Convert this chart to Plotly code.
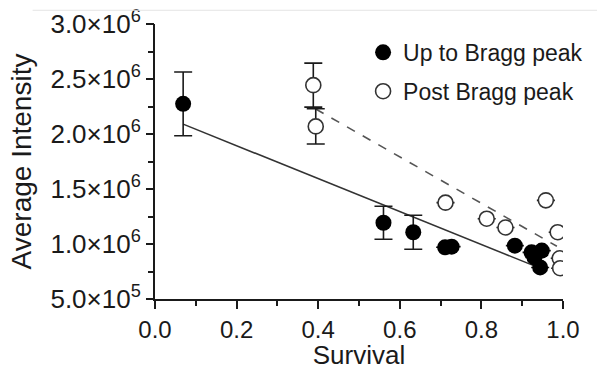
import plotly.graph_objects as go

# ---- data ----
up_x = [0.069, 0.560, 0.633, 0.711, 0.727, 0.882, 0.923, 0.948, 0.944, 0.930]
up_y = [2.274e6, 1.193e6, 1.107e6, 0.970e6, 0.976e6, 0.985e6, 0.924e6, 0.940e6, 0.787e6, 0.878e6]
up_err = [0.29e6, 0.15e6, 0.155e6, 0, 0, 0, 0, 0, 0, 0]

post_x = [0.388, 0.394, 0.712, 0.813, 0.859, 0.958, 0.987, 0.992, 0.993]
post_y = [2.444e6, 2.069e6, 1.376e6, 1.230e6, 1.150e6, 1.397e6, 1.107e6, 0.870e6, 0.780e6]
post_err = [0.20e6, 0.16e6, 0, 0, 0, 0, 0, 0, 0]

# linear fits (slope, intercept) and x extent
up_fit = [-1.497e6, 2.193e6]
up_fit_x = [0.069, 0.948]
post_fit = [-2.11e6, 3.058e6]
post_fit_x = [0.394, 0.985]

x_range = [0.0, 1.0]
x_major_step = 0.2
x_minor_step = 0.1
y_range = [5e5, 3.0e6]
y_ticks = [5e5, 1.0e6, 1.5e6, 2.0e6, 2.5e6, 3.0e6]
y_tick_text = ["5.0×10<sup>5</sup>", "1.0×10<sup>6</sup>", "1.5×10<sup>6</sup>",
               "2.0×10<sup>6</sup>", "2.5×10<sup>6</sup>", "3.0×10<sup>6</sup>"]
y_minor_step = 2.5e5

FONT = "Liberation Sans, Arial, sans-serif"
INK = "#1a1a1a"

fig = go.Figure()

# fit lines
fig.add_trace(go.Scatter(
    x=up_fit_x, y=[up_fit[0] * v + up_fit[1] for v in up_fit_x],
    mode="lines", line=dict(color="#333333", width=1.6), showlegend=False, hoverinfo="skip"))
fig.add_trace(go.Scatter(
    x=post_fit_x, y=[post_fit[0] * v + post_fit[1] for v in post_fit_x],
    mode="lines", line=dict(color="#555555", width=1.6, dash="dash"), showlegend=False, hoverinfo="skip"))

# data
fig.add_trace(go.Scatter(
    x=up_x, y=up_y, mode="markers", name="Up to Bragg peak", legendgroup="a",
    marker=dict(symbol="circle", size=16, color="#000000", line=dict(color="#000000", width=0)),
    error_y=dict(type="data", array=up_err, visible=True, color=INK, thickness=1.6, width=9)))
fig.add_trace(go.Scatter(
    x=post_x, y=post_y, mode="markers", name="Post Bragg peak", legendgroup="b",
    marker=dict(symbol="circle", size=15, color="#ffffff", line=dict(color="#333333", width=1.6)),
    error_y=dict(type="data", array=post_err, visible=True, color=INK, thickness=1.6, width=9)))

# empty trace so the overlay y axis (major ticks + labels) is drawn
fig.add_trace(go.Scatter(x=[], y=[], yaxis="y2", showlegend=False, hoverinfo="skip"))

fig.update_layout(
    width=597, height=370,
    margin=dict(l=155, r=34, t=24, b=71, autoexpand=False),
    paper_bgcolor="white", plot_bgcolor="white",
    font=dict(family=FONT, color=INK),
    xaxis=dict(
        range=x_range, tickmode="linear", tick0=0, dtick=x_major_step, tickformat=".1f",
        showgrid=False, zeroline=False, showline=True, linecolor=INK, linewidth=2,
        ticks="outside", ticklen=8, tickwidth=2, tickcolor=INK,
        tickfont=dict(family=FONT, size=24, color=INK),
        minor=dict(dtick=x_minor_step, ticks="outside", ticklen=5, tickwidth=2, tickcolor=INK),
        title=dict(text="Survival", font=dict(family=FONT, size=26, color=INK), standoff=9)),
    yaxis=dict(
        range=y_range, tickmode="linear", tick0=y_range[0], dtick=y_minor_step,
        showticklabels=False, showgrid=False, zeroline=False,
        showline=True, linecolor=INK, linewidth=2,
        ticks="outside", ticklen=5, tickwidth=2, tickcolor=INK,
        title=dict(text="Average Intensity", font=dict(family=FONT, size=28, color=INK), standoff=108)),
    yaxis2=dict(
        overlaying="y", side="left", range=y_range, tickmode="array",
        tickvals=y_ticks, ticktext=y_tick_text,
        showgrid=False, zeroline=False, showline=False,
        ticks="outside", ticklen=8, tickwidth=2, tickcolor=INK,
        tickfont=dict(family=FONT, size=26, color=INK)),
    legend=dict(
        x=0.51, y=0.975, xanchor="left", yanchor="top",
        bgcolor="rgba(0,0,0,0)", borderwidth=0,
        font=dict(family=FONT, size=23, color=INK),
        tracegroupgap=6, traceorder="grouped", itemwidth=30),
    shapes=[dict(type="line", xref="paper", yref="paper", x0=-0.3, x1=1.1, y0=1.05, y1=1.05,
                 line=dict(color="#e4e4e4", width=1))],
)

fig.write_html("out.html")
